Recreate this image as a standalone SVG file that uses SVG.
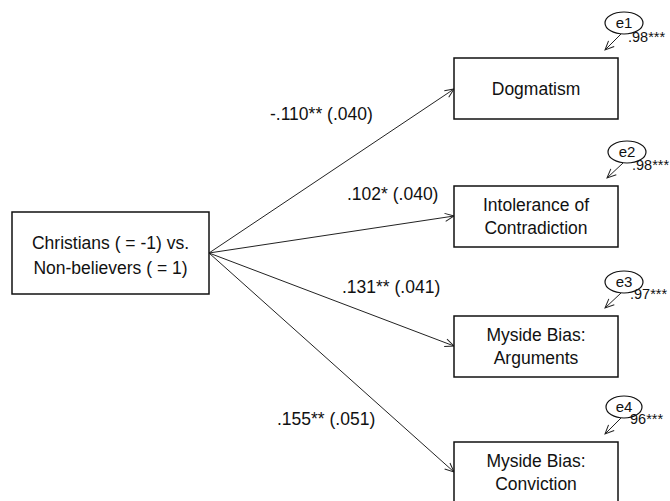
<svg xmlns="http://www.w3.org/2000/svg" width="670" height="501" viewBox="0 0 670 501">
<defs>
<marker id="ah" markerUnits="userSpaceOnUse" markerWidth="12" markerHeight="12" refX="10" refY="5" orient="auto" viewBox="0 0 12 10">
<path d="M1,1 L10,5 L1,9" fill="none" stroke="#222" stroke-width="1"/>
</marker>
</defs>
<style>
rect.box{fill:#fff;stroke:#111;stroke-width:1.5}
ellipse.err{fill:#fff;stroke:#111;stroke-width:1.2}
text{font-family:"Liberation Sans",Arial,sans-serif;fill:#111}
.nt{font-size:17.5px;text-anchor:middle}
.lb{font-size:17.5px}
.et{font-size:15px;text-anchor:middle}
.ev{font-size:14.5px}
line.c{stroke:#222;stroke-width:1;marker-end:url(#ah)}
</style>
<rect width="670" height="501" fill="#fff"/>
<g id="connectors">
<line class="c" x1="209" y1="253" x2="454" y2="89"/>
<line class="c" x1="209" y1="253" x2="454" y2="216"/>
<line class="c" x1="209" y1="253" x2="454" y2="346"/>
<line class="c" x1="209" y1="253" x2="454" y2="472"/>
<line class="c" x1="621" y1="34" x2="605" y2="50"/>
<line class="c" x1="623" y1="163" x2="607" y2="178"/>
<line class="c" x1="621" y1="293" x2="605" y2="308"/>
<line class="c" x1="621" y1="418" x2="605" y2="434"/>
<text class="lb" x="270" y="120">-.110** (.040)</text>
<text class="lb" x="347" y="200">.102* (.040)</text>
<text class="lb" x="342" y="293">.131** (.041)</text>
<text class="lb" x="277" y="425">.155** (.051)</text>
</g>
<g id="predictor">
<rect class="box" x="12" y="212" width="197" height="82"/>
<text class="nt" x="110.5" y="249">Christians ( = -1) vs.</text>
<text class="nt" x="110.5" y="274">Non-believers ( = 1)</text>
</g>
<g id="dogmatism">
<rect class="box" x="454" y="58" width="164" height="61"/>
<text class="nt" x="536" y="95">Dogmatism</text>
</g>
<g id="intolerance">
<rect class="box" x="454" y="186" width="164" height="61"/>
<text class="nt" x="536" y="211">Intolerance of</text>
<text class="nt" x="536" y="234">Contradiction</text>
</g>
<g id="arguments">
<rect class="box" x="454" y="316" width="164" height="61"/>
<text class="nt" x="536" y="341">Myside Bias:</text>
<text class="nt" x="536" y="364">Arguments</text>
</g>
<g id="conviction">
<rect class="box" x="454" y="442" width="164" height="62"/>
<text class="nt" x="536" y="467">Myside Bias:</text>
<text class="nt" x="536" y="490">Conviction</text>
</g>
<g id="e1">
<ellipse class="err" cx="624" cy="23" rx="19" ry="11"/>
<text class="et" x="624" y="28">e1</text>
<text class="ev" x="628" y="42">.98***</text>
</g>
<g id="e2">
<ellipse class="err" cx="627" cy="152" rx="19" ry="11"/>
<text class="et" x="627" y="157">e2</text>
<text class="ev" x="632" y="170">.98***</text>
</g>
<g id="e3">
<ellipse class="err" cx="624" cy="282" rx="19" ry="11"/>
<text class="et" x="624" y="287">e3</text>
<text class="ev" x="630" y="299">.97***</text>
</g>
<g id="e4">
<ellipse class="err" cx="624" cy="407" rx="18" ry="11"/>
<text class="et" x="624" y="412">e4</text>
<text class="ev" x="630" y="424">96***</text>
</g>
</svg>
